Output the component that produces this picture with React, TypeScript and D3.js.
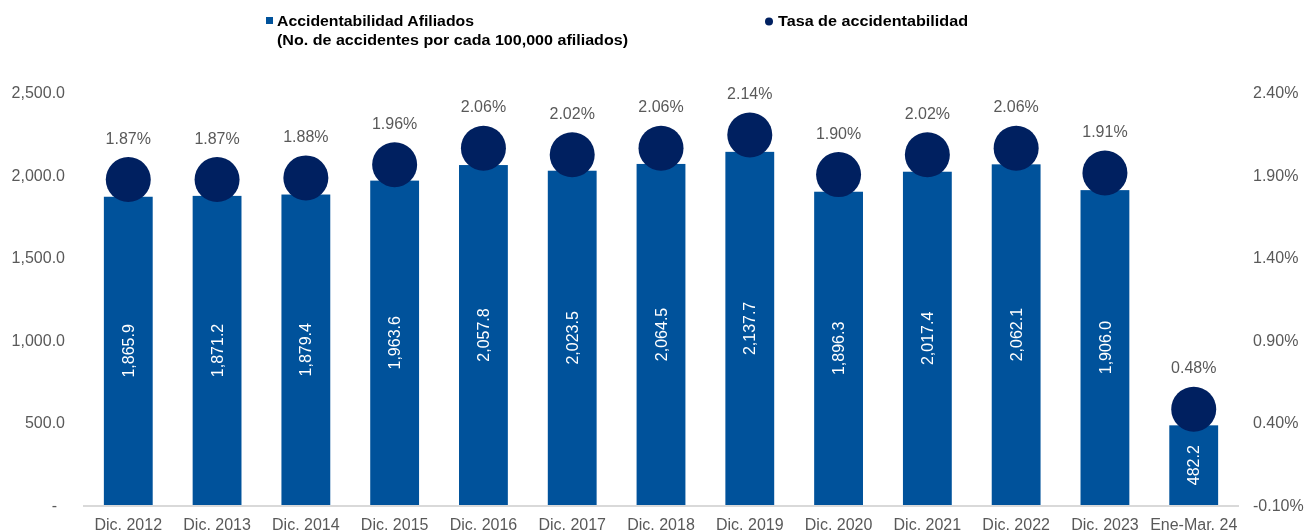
import { useRef, useEffect } from 'react';
import * as d3 from 'd3';

const categories = [
  'Dic. 2012', 'Dic. 2013', 'Dic. 2014', 'Dic. 2015', 'Dic. 2016', 'Dic. 2017', 'Dic. 2018',
  'Dic. 2019', 'Dic. 2020', 'Dic. 2021', 'Dic. 2022', 'Dic. 2023', 'Ene-Mar. 24',
];
const accidentabilidad = [
  1865.9, 1871.2, 1879.4, 1963.6, 2057.8, 2023.5, 2064.5, 2137.7, 1896.3, 2017.4, 2062.1, 1906.0, 482.2,
];
const tasa = [1.87, 1.87, 1.88, 1.96, 2.06, 2.02, 2.06, 2.14, 1.90, 2.02, 2.06, 1.91, 0.48];
const leftTicks = [0, 500, 1000, 1500, 2000, 2500];
const rightTicks = [-0.1, 0.4, 0.9, 1.4, 1.9, 2.4];

const BAR = '#00529b';
const DOT = '#002060';
const TEXT = '#595959';
const FONT = '"Liberation Sans", Arial, sans-serif';

export default function App() {
  const svgRef = useRef<SVGSVGElement>(null);

  useEffect(() => {
    if (!svgRef.current) return;
    const svg = d3.select(svgRef.current);
    svg.selectAll('*').remove();

    const x = d3.scaleBand()
      .domain(categories)
      .range([83, 1239])
      .paddingInner(0.45)
      .paddingOuter(0.235);

    const yL = d3.scaleLinear().domain([0, 2500]).range([505, 92]);
    const yR = d3.scaleLinear().domain([-0.1, 2.4]).range([505, 92]);

    const fmtL = d3.format(',.1f');

    // Left axis labels
    svg.append('g')
      .selectAll('text')
      .data(leftTicks)
      .enter()
      .append('text')
      .attr('x', d => (d === 0 ? 57 : 65))
      .attr('y', d => yL(d) + 6)
      .attr('text-anchor', 'end')
      .style('font-family', FONT)
      .style('font-size', '16px')
      .style('fill', TEXT)
      .text(d => (d === 0 ? '-' : fmtL(d)));

    // Right axis labels
    svg.append('g')
      .selectAll('text')
      .data(rightTicks)
      .enter()
      .append('text')
      .attr('x', 1253)
      .attr('y', d => yR(d) + 6)
      .attr('text-anchor', 'start')
      .style('font-family', FONT)
      .style('font-size', '16px')
      .style('fill', TEXT)
      .text(d => `${d.toFixed(2)}%`);

    // Bars
    svg.append('g')
      .selectAll('rect')
      .data(accidentabilidad)
      .enter()
      .append('rect')
      .attr('x', (_, i) => x(categories[i]) || 0)
      .attr('y', d => yL(d))
      .attr('width', x.bandwidth())
      .attr('height', d => yL(0) - yL(d))
      .attr('fill', BAR);

    // Baseline
    svg.append('line')
      .attr('x1', 83)
      .attr('x2', 1239)
      .attr('y1', yL(0) + 1)
      .attr('y2', yL(0) + 1)
      .attr('stroke', '#d9d9d9')
      .attr('stroke-width', 2);

    // Bar value labels (rotated)
    svg.append('g')
      .selectAll('text')
      .data(accidentabilidad)
      .enter()
      .append('text')
      .attr('transform', (d, i) => {
        const cx = (x(categories[i]) || 0) + x.bandwidth() / 2;
        const cy = (yL(d) + yL(0)) / 2;
        return `translate(${cx},${cy}) rotate(-90)`;
      })
      .attr('text-anchor', 'middle')
      .attr('dy', '0.35em')
      .style('font-family', FONT)
      .style('font-size', '16px')
      .style('fill', '#ffffff')
      .text(d => fmtL(d));

    // Rate dots
    svg.append('g')
      .selectAll('circle')
      .data(tasa)
      .enter()
      .append('circle')
      .attr('cx', (_, i) => (x(categories[i]) || 0) + x.bandwidth() / 2)
      .attr('cy', d => yR(d))
      .attr('r', 22.5)
      .attr('fill', DOT);

    // Rate labels
    svg.append('g')
      .selectAll('text')
      .data(tasa)
      .enter()
      .append('text')
      .attr('x', (_, i) => (x(categories[i]) || 0) + x.bandwidth() / 2)
      .attr('y', d => yR(d) - 36)
      .attr('text-anchor', 'middle')
      .style('font-family', FONT)
      .style('font-size', '16px')
      .style('fill', TEXT)
      .text(d => `${d.toFixed(2)}%`);

    // Category labels
    svg.append('g')
      .selectAll('text')
      .data(categories)
      .enter()
      .append('text')
      .attr('x', d => (x(d) || 0) + x.bandwidth() / 2)
      .attr('y', 530)
      .attr('text-anchor', 'middle')
      .style('font-family', FONT)
      .style('font-size', '16px')
      .style('fill', TEXT)
      .text(d => d);

    // Legend
    const legend = svg.append('g')
      .style('font-family', FONT)
      .style('font-size', '15px')
      .style('font-weight', 'bold')
      .style('fill', '#000000');

    legend.append('rect')
      .attr('x', 266)
      .attr('y', 17)
      .attr('width', 7)
      .attr('height', 7)
      .attr('fill', BAR);
    legend.append('text').attr('x', 277).attr('y', 26)
      .attr('textLength', 197).attr('lengthAdjust', 'spacingAndGlyphs')
      .text('Accidentabilidad Afiliados');
    legend.append('text').attr('x', 277).attr('y', 45)
      .attr('textLength', 351).attr('lengthAdjust', 'spacingAndGlyphs')
      .text('(No. de accidentes por cada 100,000 afiliados)');

    legend.append('circle')
      .attr('cx', 769)
      .attr('cy', 21.5)
      .attr('r', 4)
      .attr('fill', DOT);
    legend.append('text').attr('x', 778).attr('y', 26)
      .attr('textLength', 190).attr('lengthAdjust', 'spacingAndGlyphs')
      .text('Tasa de accidentabilidad');
  }, []);

  return (
    <div style={{ position: 'fixed', top: 0, left: 0, width: 1305, height: 532, overflow: 'hidden' }}>
      <svg ref={svgRef} width={1305} height={532} style={{ display: 'block' }} />
    </div>
  );
}
